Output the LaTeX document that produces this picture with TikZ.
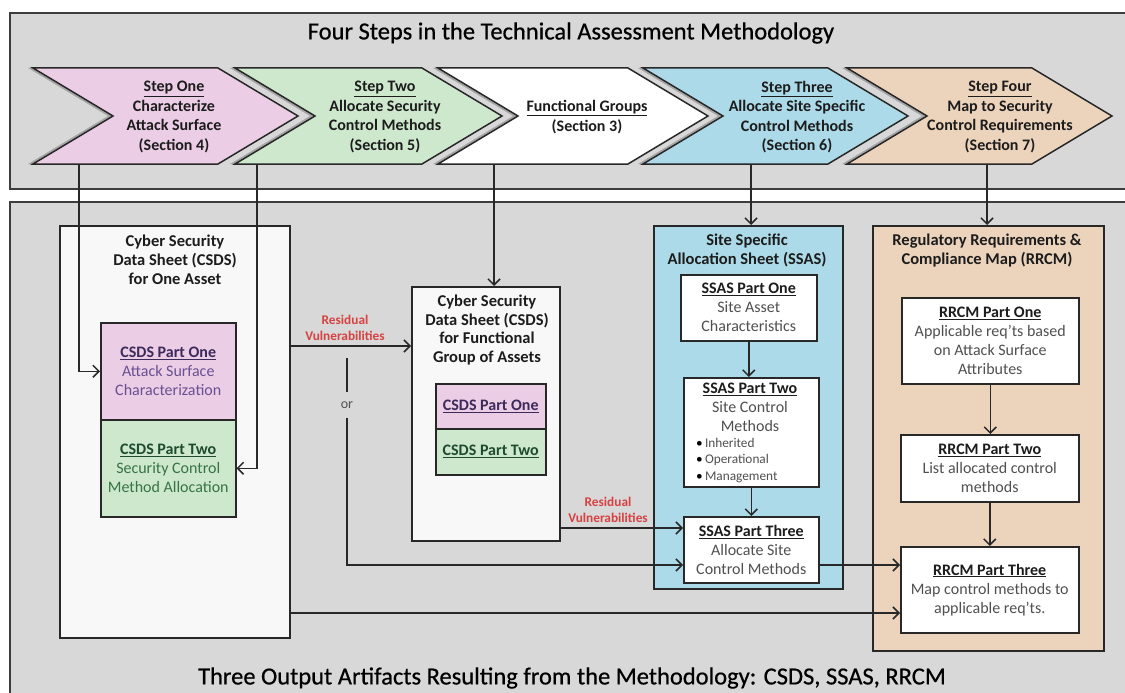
\documentclass[tikz,border=0pt]{standalone}
\usepackage{fontspec}
\setmainfont{Carlito}
\newfontfamily\heavyfont[FakeBold=0.6]{Carlito}
\usetikzlibrary{arrows.meta,calc}
\definecolor{panelgray}{RGB}{216,216,216}
\definecolor{pinkc}{RGB}{236,205,230}
\definecolor{greenc}{RGB}{206,232,206}
\definecolor{bluec}{RGB}{172,218,232}
\definecolor{tanc}{RGB}{236,211,188}
\definecolor{edgec}{RGB}{40,40,40}
\definecolor{txtc}{RGB}{28,28,28}
\definecolor{gtxt}{RGB}{80,80,80}
\definecolor{ptitle}{RGB}{60,42,90}
\definecolor{ptxt}{RGB}{105,80,145}
\definecolor{grtitle}{RGB}{30,75,45}
\definecolor{grtxt}{RGB}{55,115,70}
\definecolor{redt}{RGB}{215,65,65}
\definecolor{shadowc}{RGB}{165,165,165}
\definecolor{sheetc}{RGB}{248,248,248}
\newcommand\mybx[6]{\node[box, fill=#6, minimum width={(#4)-(#2)}, minimum height={(#5)-(#3)}] (#1) at (#2,#3) {};}
\begin{document}
\begin{tikzpicture}[x=1pt,y=-1pt,
  box/.style={draw=edgec, line width=1.5pt, anchor=north west, inner sep=0pt},
  panel/.style={draw=edgec!90, fill=panelgray, line width=1.5pt},
  chev/.style={draw=edgec, line width=1.5pt},
  chevtxt/.style={align=center, font=\bfseries\fontsize{16}{19.5}\selectfont, text=txtc, inner sep=0pt},
  bt/.style={align=center, font=\fontsize{16}{19}\selectfont, text=gtxt, inner sep=0pt},
  ttl/.style={align=center, font=\bfseries\fontsize{16.5}{19}\selectfont, text=txtc, inner sep=0pt},
  redlbl/.style={align=center, font=\bfseries\fontsize{13.3}{16}\selectfont, text=redt, inner sep=0pt},
  big/.style={font=\heavyfont\fontsize{24.5}{28}\selectfont, text=black, inner sep=0pt},
  ln/.style={draw=edgec, line width=1.5pt},
  arr/.style={ln, -{Straight Barb[length=6pt,width=12pt]}}
]
\useasboundingbox (0,0) rectangle (1125,693);
\fill[white] (0,0) rectangle (1125,693);
% panels
\draw[panel] (10,13) rectangle (1140,189);
\draw[panel] (10,202) rectangle (1140,710);
\node[big] (t1) at (571,33) {Four Steps in the Technical Assessment Methodology};
\node[big] (t2) at (572,678) {Three Output Artifacts Resulting from the Methodology: CSDS, SSAS, RRCM};
% chevrons
\foreach \l/\r/\c in {33/218/pinkc, 235/422/greenc, 438/628/white, 643/828/bluec, 847/1032/tanc}{
  \fill[shadowc, xshift=-5pt] (\l,68) -- (\r,68) -- (\r+80,116) -- (\r,164) -- (\l,164) -- (\l+80,116) -- cycle;
  \draw[chev, fill=\c] (\l,68) -- (\r,68) -- (\r+80,116) -- (\r,164) -- (\l,164) -- (\l+80,116) -- cycle;
}
\node[chevtxt] (s1) at (174,117) {\underline{Step One}\\Characterize\\Attack Surface\\(Section 4)};
\node[chevtxt] (s2) at (385,117) {\underline{Step Two}\\Allocate Security\\Control Methods\\(Section 5)};
\node[chevtxt] (s3) at (587,117) {\underline{Functional Groups}\\(Section 3)};
\node[chevtxt] (s4) at (797,117) {\underline{Step Three}\\Allocate Site Specific\\Control Methods\\(Section 6)};
\node[chevtxt] (s5) at (1000,117) {\underline{Step Four}\\Map to Security\\Control Requirements\\(Section 7)};
\coordinate (c1b) at (79,164);
\coordinate (c2b) at (257,164);
\coordinate (c3b) at (494,164);
\coordinate (c4b) at (751,164);
\coordinate (c5b) at (987,164);
% CSDS one asset
\mybx{csds}{59}{225}{289}{637}{sheetc}
\node[ttl] (csdst) at (175,260) {Cyber Security\\Data Sheet (CSDS)\\for One Asset};
\mybx{p1}{100}{322}{235}{419}{pinkc}
\mybx{p2}{100}{419}{235}{516}{greenc}
\node[bt, text=ptxt] (p1t) at (p1.center) {{\color{ptitle}\underline{\textbf{CSDS Part One}}}\\Attack Surface\\Characterization};
\node[bt, text=grtxt] (p2t) at (p2.center) {{\color{grtitle}\underline{\textbf{CSDS Part Two}}}\\Security Control\\Method Allocation};
% CSDS functional group
\mybx{fg}{411}{286}{559}{540}{sheetc}
\node[ttl, font=\bfseries\fontsize{16.5}{18.7}\selectfont] (fgt) at (487,330) {Cyber Security\\Data Sheet (CSDS)\\for Functional\\Group of Assets};
\mybx{fp1}{435}{383}{545}{428}{pinkc}
\mybx{fp2}{435}{428}{545}{474}{greenc}
\node[bt, text=ptitle] (fp1t) at (fp1.center) {\underline{\textbf{CSDS Part One}}};
\node[bt, text=grtitle] (fp2t) at (fp2.center) {\underline{\textbf{CSDS Part Two}}};
% SSAS
\mybx{ssas}{653}{225}{842}{588}{bluec}
\node[ttl] (ssast) at (747,250.5) {Site Specific\\Allocation Sheet (SSAS)};
\mybx{sp1}{680}{274}{816}{340}{white}
\mybx{sp2}{683}{377}{818}{486}{white}
\mybx{sp3}{683}{516}{818}{582}{white}
\node[bt] (sp1t) at (sp1.center) {{\color{txtc}\underline{\textbf{SSAS Part One}}}\\Site Asset\\Characteristics};
\node[bt] (sp2t) at (750,407) {{\color{txtc}\underline{\textbf{SSAS Part Two}}}\\Site Control\\Methods};
\node[bt, align=left, anchor=west, font=\fontsize{13.3}{16.5}\selectfont] (sp2b) at (696,460.5) {{\color{black}•}\,Inherited\\{\color{black}•}\,Operational\\{\color{black}•}\,Management};
\node[bt] (sp3t) at (sp3.center) {{\color{txtc}\underline{\textbf{SSAS Part Three}}}\\Allocate Site\\Control Methods};
% RRCM
\mybx{rrcm}{872}{225}{1103}{650}{tanc}
\node[ttl] (rrcmt) at (987,250.5) {Regulatory Requirements \&\\Compliance Map (RRCM)};
\mybx{rp1}{901}{297}{1078}{383}{white}
\mybx{rp2}{900}{434}{1078}{501}{white}
\mybx{rp3}{900}{546}{1078}{632}{white}
\node[bt] (rp1t) at (rp1.center) {{\color{txtc}\underline{\textbf{RRCM Part One}}}\\Applicable req’ts based\\on Attack Surface\\Attributes};
\node[bt] (rp2t) at (rp2.center) {{\color{txtc}\underline{\textbf{RRCM Part Two}}}\\List allocated control\\methods};
\node[bt] (rp3t) at (rp3.center) {{\color{txtc}\underline{\textbf{RRCM Part Three}}}\\Map control methods to\\applicable req’ts.};
% connectors from steps
\draw[arr] (c1b) |- (p1.west);
\draw[arr] (c2b) |- (p2.east);
\draw[arr] (c3b) -- (c3b |- fg.north);
\draw[arr] (c4b) -- (c4b |- ssas.north);
\draw[arr] (c5b) -- (c5b |- rrcm.north);
% residual vulnerabilities 1
\coordinate (r1) at (350,346);
\draw[arr] (r1 -| csds.east) -- (r1 -| fg.west);
\node[redlbl] (r1l) at (345,328) {Residual\\Vulnerabilities};
% or path
\coordinate (ortop) at (347,358);
\node[inner sep=0pt, minimum height=25pt, font=\fontsize{14}{16}\selectfont, text=gtxt] (ornode) at (347,405) {or};
\coordinate (orturn) at (347,565);
\draw[ln] (ortop) -- (ornode.north);
\draw[arr] (ornode.south) -- (orturn) -- (orturn -| sp3.west);
% residual vulnerabilities 2
\coordinate (r2) at (600,528);
\draw[arr] (r2 -| fg.east) -- (r2 -| sp3.west);
\node[redlbl] (r2l) at (608,510) {Residual\\Vulnerabilities};
% SSAS chain
\draw[arr] (sp1.south) -- (sp1.south |- sp2.north);
\draw[arr] (sp2.south) -- (sp3.north);
\draw[arr] (orturn -| sp3.east) -- (orturn -| rp3.west);
% RRCM chain
\draw[arr] (rp1.south) -- (rp1.south |- rp2.north);
\draw[arr] (rp2.south) -- (rp3.north);
% long line
\coordinate (lng) at (300,613);
\draw[arr] (lng -| csds.east) -- (lng -| rp3.west);
\end{tikzpicture}
\end{document}
